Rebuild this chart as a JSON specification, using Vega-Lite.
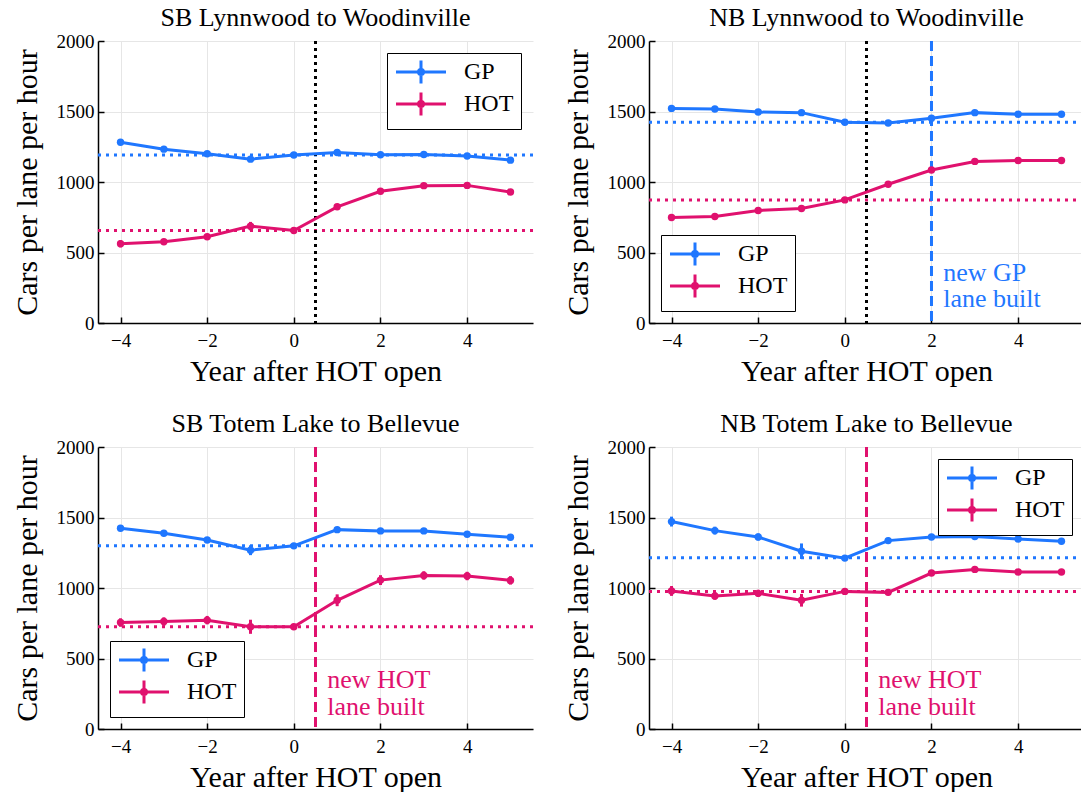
{
  "$schema": "https://vega.github.io/schema/vega-lite/v6.json",
  "padding": {"left": 11, "top": 5, "right": 0, "bottom": 0},
  "bounds": "flush",
  "columns": 2,
  "spacing": {"column": 116, "row": 124},
  "datasets": {
    "series": [
      {"panel": "SB-LW", "lane": "GP", "year": -4, "value": 1282, "lo": 1267, "hi": 1297},
      {"panel": "SB-LW", "lane": "GP", "year": -3, "value": 1233, "lo": 1218, "hi": 1248},
      {"panel": "SB-LW", "lane": "GP", "year": -2, "value": 1200, "lo": 1185, "hi": 1215},
      {"panel": "SB-LW", "lane": "GP", "year": -1, "value": 1162, "lo": 1144, "hi": 1180},
      {"panel": "SB-LW", "lane": "GP", "year": 0, "value": 1191, "lo": 1176, "hi": 1206},
      {"panel": "SB-LW", "lane": "GP", "year": 1, "value": 1209, "lo": 1194, "hi": 1224},
      {"panel": "SB-LW", "lane": "GP", "year": 2, "value": 1193, "lo": 1178, "hi": 1208},
      {"panel": "SB-LW", "lane": "GP", "year": 3, "value": 1195, "lo": 1180, "hi": 1210},
      {"panel": "SB-LW", "lane": "GP", "year": 4, "value": 1184, "lo": 1169, "hi": 1199},
      {"panel": "SB-LW", "lane": "GP", "year": 5, "value": 1155, "lo": 1140, "hi": 1170},
      {"panel": "SB-LW", "lane": "HOT", "year": -4, "value": 562, "lo": 537, "hi": 587},
      {"panel": "SB-LW", "lane": "HOT", "year": -3, "value": 576, "lo": 556, "hi": 596},
      {"panel": "SB-LW", "lane": "HOT", "year": -2, "value": 612, "lo": 592, "hi": 632},
      {"panel": "SB-LW", "lane": "HOT", "year": -1, "value": 687, "lo": 657, "hi": 717},
      {"panel": "SB-LW", "lane": "HOT", "year": 0, "value": 656, "lo": 641, "hi": 671},
      {"panel": "SB-LW", "lane": "HOT", "year": 1, "value": 824, "lo": 804, "hi": 844},
      {"panel": "SB-LW", "lane": "HOT", "year": 2, "value": 934, "lo": 919, "hi": 949},
      {"panel": "SB-LW", "lane": "HOT", "year": 3, "value": 974, "lo": 959, "hi": 989},
      {"panel": "SB-LW", "lane": "HOT", "year": 4, "value": 976, "lo": 961, "hi": 991},
      {"panel": "SB-LW", "lane": "HOT", "year": 5, "value": 929, "lo": 914, "hi": 944},
      {"panel": "NB-LW", "lane": "GP", "year": -4, "value": 1522, "lo": 1510, "hi": 1534},
      {"panel": "NB-LW", "lane": "GP", "year": -3, "value": 1518, "lo": 1506, "hi": 1530},
      {"panel": "NB-LW", "lane": "GP", "year": -2, "value": 1496, "lo": 1484, "hi": 1508},
      {"panel": "NB-LW", "lane": "GP", "year": -1, "value": 1492, "lo": 1480, "hi": 1504},
      {"panel": "NB-LW", "lane": "GP", "year": 0, "value": 1424, "lo": 1412, "hi": 1436},
      {"panel": "NB-LW", "lane": "GP", "year": 1, "value": 1419, "lo": 1407, "hi": 1431},
      {"panel": "NB-LW", "lane": "GP", "year": 2, "value": 1452, "lo": 1440, "hi": 1464},
      {"panel": "NB-LW", "lane": "GP", "year": 3, "value": 1492, "lo": 1480, "hi": 1504},
      {"panel": "NB-LW", "lane": "GP", "year": 4, "value": 1480, "lo": 1468, "hi": 1492},
      {"panel": "NB-LW", "lane": "GP", "year": 5, "value": 1480, "lo": 1468, "hi": 1492},
      {"panel": "NB-LW", "lane": "HOT", "year": -4, "value": 748, "lo": 736, "hi": 760},
      {"panel": "NB-LW", "lane": "HOT", "year": -3, "value": 755, "lo": 743, "hi": 767},
      {"panel": "NB-LW", "lane": "HOT", "year": -2, "value": 798, "lo": 786, "hi": 810},
      {"panel": "NB-LW", "lane": "HOT", "year": -1, "value": 812, "lo": 800, "hi": 824},
      {"panel": "NB-LW", "lane": "HOT", "year": 0, "value": 873, "lo": 861, "hi": 885},
      {"panel": "NB-LW", "lane": "HOT", "year": 1, "value": 984, "lo": 972, "hi": 996},
      {"panel": "NB-LW", "lane": "HOT", "year": 2, "value": 1085, "lo": 1073, "hi": 1097},
      {"panel": "NB-LW", "lane": "HOT", "year": 3, "value": 1146, "lo": 1134, "hi": 1158},
      {"panel": "NB-LW", "lane": "HOT", "year": 4, "value": 1153, "lo": 1141, "hi": 1165},
      {"panel": "NB-LW", "lane": "HOT", "year": 5, "value": 1153, "lo": 1141, "hi": 1165},
      {"panel": "SB-TB", "lane": "GP", "year": -4, "value": 1424, "lo": 1409, "hi": 1439},
      {"panel": "SB-TB", "lane": "GP", "year": -3, "value": 1388, "lo": 1373, "hi": 1403},
      {"panel": "SB-TB", "lane": "GP", "year": -2, "value": 1341, "lo": 1326, "hi": 1356},
      {"panel": "SB-TB", "lane": "GP", "year": -1, "value": 1268, "lo": 1233, "hi": 1303},
      {"panel": "SB-TB", "lane": "GP", "year": 0, "value": 1299, "lo": 1284, "hi": 1314},
      {"panel": "SB-TB", "lane": "GP", "year": 1, "value": 1414, "lo": 1399, "hi": 1429},
      {"panel": "SB-TB", "lane": "GP", "year": 2, "value": 1405, "lo": 1390, "hi": 1420},
      {"panel": "SB-TB", "lane": "GP", "year": 3, "value": 1405, "lo": 1390, "hi": 1420},
      {"panel": "SB-TB", "lane": "GP", "year": 4, "value": 1381, "lo": 1366, "hi": 1396},
      {"panel": "SB-TB", "lane": "GP", "year": 5, "value": 1360, "lo": 1340, "hi": 1380},
      {"panel": "SB-TB", "lane": "HOT", "year": -4, "value": 755, "lo": 725, "hi": 785},
      {"panel": "SB-TB", "lane": "HOT", "year": -3, "value": 762, "lo": 732, "hi": 792},
      {"panel": "SB-TB", "lane": "HOT", "year": -2, "value": 772, "lo": 742, "hi": 802},
      {"panel": "SB-TB", "lane": "HOT", "year": -1, "value": 725, "lo": 675, "hi": 775},
      {"panel": "SB-TB", "lane": "HOT", "year": 0, "value": 725, "lo": 710, "hi": 740},
      {"panel": "SB-TB", "lane": "HOT", "year": 1, "value": 913, "lo": 871, "hi": 955},
      {"panel": "SB-TB", "lane": "HOT", "year": 2, "value": 1056, "lo": 1021, "hi": 1091},
      {"panel": "SB-TB", "lane": "HOT", "year": 3, "value": 1089, "lo": 1059, "hi": 1119},
      {"panel": "SB-TB", "lane": "HOT", "year": 4, "value": 1085, "lo": 1055, "hi": 1115},
      {"panel": "SB-TB", "lane": "HOT", "year": 5, "value": 1054, "lo": 1024, "hi": 1084},
      {"panel": "NB-TB", "lane": "GP", "year": -4, "value": 1471, "lo": 1436, "hi": 1506},
      {"panel": "NB-TB", "lane": "GP", "year": -3, "value": 1407, "lo": 1379, "hi": 1435},
      {"panel": "NB-TB", "lane": "GP", "year": -2, "value": 1362, "lo": 1337, "hi": 1387},
      {"panel": "NB-TB", "lane": "GP", "year": -1, "value": 1261, "lo": 1206, "hi": 1316},
      {"panel": "NB-TB", "lane": "GP", "year": 0, "value": 1212, "lo": 1197, "hi": 1227},
      {"panel": "NB-TB", "lane": "GP", "year": 1, "value": 1336, "lo": 1316, "hi": 1356},
      {"panel": "NB-TB", "lane": "GP", "year": 2, "value": 1362, "lo": 1347, "hi": 1377},
      {"panel": "NB-TB", "lane": "GP", "year": 3, "value": 1365, "lo": 1350, "hi": 1380},
      {"panel": "NB-TB", "lane": "GP", "year": 4, "value": 1348, "lo": 1333, "hi": 1363},
      {"panel": "NB-TB", "lane": "GP", "year": 5, "value": 1332, "lo": 1312, "hi": 1352},
      {"panel": "NB-TB", "lane": "HOT", "year": -4, "value": 979, "lo": 944, "hi": 1014},
      {"panel": "NB-TB", "lane": "HOT", "year": -3, "value": 944, "lo": 916, "hi": 972},
      {"panel": "NB-TB", "lane": "HOT", "year": -2, "value": 962, "lo": 937, "hi": 987},
      {"panel": "NB-TB", "lane": "HOT", "year": -1, "value": 913, "lo": 868, "hi": 958},
      {"panel": "NB-TB", "lane": "HOT", "year": 0, "value": 976, "lo": 961, "hi": 991},
      {"panel": "NB-TB", "lane": "HOT", "year": 1, "value": 969, "lo": 949, "hi": 989},
      {"panel": "NB-TB", "lane": "HOT", "year": 2, "value": 1106, "lo": 1086, "hi": 1126},
      {"panel": "NB-TB", "lane": "HOT", "year": 3, "value": 1132, "lo": 1117, "hi": 1147},
      {"panel": "NB-TB", "lane": "HOT", "year": 4, "value": 1113, "lo": 1098, "hi": 1128},
      {"panel": "NB-TB", "lane": "HOT", "year": 5, "value": 1113, "lo": 1098, "hi": 1128}
    ],
    "refs": [
      {"panel": "SB-LW", "lane": "GP", "value": 1191},
      {"panel": "SB-LW", "lane": "HOT", "value": 656},
      {"panel": "NB-LW", "lane": "GP", "value": 1424},
      {"panel": "NB-LW", "lane": "HOT", "value": 873},
      {"panel": "SB-TB", "lane": "GP", "value": 1299},
      {"panel": "SB-TB", "lane": "HOT", "value": 725},
      {"panel": "NB-TB", "lane": "GP", "value": 1214},
      {"panel": "NB-TB", "lane": "HOT", "value": 976}
    ],
    "vlines": [
      {"panel": "SB-LW", "kind": "open", "year": 0.5},
      {"panel": "NB-LW", "kind": "open", "year": 0.5},
      {"panel": "NB-LW", "kind": "gp", "year": 2},
      {"panel": "SB-TB", "kind": "hot", "year": 0.5},
      {"panel": "NB-TB", "kind": "hot", "year": 0.5}
    ],
    "notes": [
      {"panel": "NB-LW", "lane": "GP", "year": 2.27, "value": 355, "label": "new GP"},
      {"panel": "NB-LW", "lane": "GP", "year": 2.27, "value": 168, "label": "lane built"},
      {"panel": "SB-TB", "lane": "HOT", "year": 0.77, "value": 348, "label": "new HOT"},
      {"panel": "SB-TB", "lane": "HOT", "year": 0.77, "value": 158, "label": "lane built"},
      {"panel": "NB-TB", "lane": "HOT", "year": 0.77, "value": 348, "label": "new HOT"},
      {"panel": "NB-TB", "lane": "HOT", "year": 0.77, "value": 158, "label": "lane built"}
    ]
  },
  "concat": [
    {
      "title": "SB Lynnwood to Woodinville",
      "width": 435, "height": 282,
      "layer": [
        {"data": {"name": "refs"}, "transform": [{"filter": "datum.panel == 'SB-LW'"}],
         "mark": {"type": "rule", "strokeDash": [3, 5], "strokeWidth": 3},
         "encoding": {
           "y": {"field": "value", "type": "quantitative", "scale": {"domain": [0, 2000], "nice": false}, "axis": {"values": [0, 500, 1000, 1500, 2000], "format": "d"}, "title": "Cars per lane per hour"},
           "color": {"field": "lane", "type": "nominal", "scale": {"domain": ["GP", "HOT"], "range": ["#1f77ff", "#e0116e"]}}}},
        {"data": {"name": "vlines"}, "transform": [{"filter": "datum.panel == 'SB-LW' && datum.kind == 'open'"}],
         "mark": {"type": "rule", "color": "black", "strokeDash": [3, 4], "strokeWidth": 3},
         "encoding": {
           "x": {"field": "year", "type": "quantitative", "scale": {"domain": [-4.52, 5.52], "nice": false, "zero": false}, "axis": {"values": [-4, -2, 0, 2, 4], "format": "d"}, "title": "Year after HOT open"}}},
        {"data": {"name": "series"}, "transform": [{"filter": "datum.panel == 'SB-LW'"}],
         "mark": {"type": "rule", "strokeWidth": 3},
         "encoding": {
           "x": {"field": "year", "type": "quantitative", "scale": {"domain": [-4.52, 5.52], "nice": false, "zero": false}, "title": "Year after HOT open"},
           "y": {"field": "lo", "type": "quantitative", "scale": {"domain": [0, 2000], "nice": false}, "title": "Cars per lane per hour"},
           "y2": {"field": "hi"},
           "color": {"field": "lane", "type": "nominal", "scale": {"domain": ["GP", "HOT"], "range": ["#1f77ff", "#e0116e"]}}}},
        {"data": {"name": "series"}, "transform": [{"filter": "datum.panel == 'SB-LW'"}],
         "mark": {"type": "line", "strokeWidth": 3, "point": {"filled": true, "size": 55}},
         "encoding": {
           "x": {"field": "year", "type": "quantitative", "scale": {"domain": [-4.52, 5.52], "nice": false, "zero": false}, "title": "Year after HOT open"},
           "y": {"field": "value", "type": "quantitative", "scale": {"domain": [0, 2000], "nice": false}, "title": "Cars per lane per hour"},
           "color": {"field": "lane", "type": "nominal", "scale": {"domain": ["GP", "HOT"], "range": ["#1f77ff", "#e0116e"]}, "legend": {"orient": "top-right"}}}}
      ]
    },
    {
      "title": "NB Lynnwood to Woodinville",
      "width": 435, "height": 282,
      "layer": [
        {"data": {"name": "refs"}, "transform": [{"filter": "datum.panel == 'NB-LW'"}],
         "mark": {"type": "rule", "strokeDash": [3, 5], "strokeWidth": 3},
         "encoding": {
           "y": {"field": "value", "type": "quantitative", "scale": {"domain": [0, 2000], "nice": false}, "axis": {"values": [0, 500, 1000, 1500, 2000], "format": "d"}, "title": "Cars per lane per hour"},
           "color": {"field": "lane", "type": "nominal", "scale": {"domain": ["GP", "HOT"], "range": ["#1f77ff", "#e0116e"]}}}},
        {"data": {"name": "vlines"}, "transform": [{"filter": "datum.panel == 'NB-LW' && datum.kind == 'open'"}],
         "mark": {"type": "rule", "color": "black", "strokeDash": [3, 4], "strokeWidth": 3},
         "encoding": {
           "x": {"field": "year", "type": "quantitative", "scale": {"domain": [-4.52, 5.52], "nice": false, "zero": false}, "axis": {"values": [-4, -2, 0, 2, 4], "format": "d"}, "title": "Year after HOT open"}}},
        {"data": {"name": "vlines"}, "transform": [{"filter": "datum.panel == 'NB-LW' && datum.kind == 'gp'"}],
         "mark": {"type": "rule", "color": "#1f77ff", "strokeDash": [10, 5], "strokeWidth": 3},
         "encoding": {
           "x": {"field": "year", "type": "quantitative", "scale": {"domain": [-4.52, 5.52], "nice": false, "zero": false}, "title": "Year after HOT open"}}},
        {"data": {"name": "series"}, "transform": [{"filter": "datum.panel == 'NB-LW'"}],
         "mark": {"type": "rule", "strokeWidth": 3},
         "encoding": {
           "x": {"field": "year", "type": "quantitative", "scale": {"domain": [-4.52, 5.52], "nice": false, "zero": false}, "title": "Year after HOT open"},
           "y": {"field": "lo", "type": "quantitative", "scale": {"domain": [0, 2000], "nice": false}, "title": "Cars per lane per hour"},
           "y2": {"field": "hi"},
           "color": {"field": "lane", "type": "nominal", "scale": {"domain": ["GP", "HOT"], "range": ["#1f77ff", "#e0116e"]}}}},
        {"data": {"name": "series"}, "transform": [{"filter": "datum.panel == 'NB-LW'"}],
         "mark": {"type": "line", "strokeWidth": 3, "point": {"filled": true, "size": 55}},
         "encoding": {
           "x": {"field": "year", "type": "quantitative", "scale": {"domain": [-4.52, 5.52], "nice": false, "zero": false}, "title": "Year after HOT open"},
           "y": {"field": "value", "type": "quantitative", "scale": {"domain": [0, 2000], "nice": false}, "title": "Cars per lane per hour"},
           "color": {"field": "lane", "type": "nominal", "scale": {"domain": ["GP", "HOT"], "range": ["#1f77ff", "#e0116e"]}, "legend": {"orient": "bottom-left"}}}},
        {"data": {"name": "notes"}, "transform": [{"filter": "datum.panel == 'NB-LW'"}],
         "mark": {"type": "text", "align": "left", "baseline": "middle", "font": "Liberation Serif", "fontSize": 26},
         "encoding": {
           "x": {"field": "year", "type": "quantitative", "scale": {"domain": [-4.52, 5.52], "nice": false, "zero": false}, "title": "Year after HOT open"},
           "y": {"field": "value", "type": "quantitative", "scale": {"domain": [0, 2000], "nice": false}, "title": "Cars per lane per hour"},
           "text": {"field": "label"},
           "color": {"field": "lane", "type": "nominal", "scale": {"domain": ["GP", "HOT"], "range": ["#1f77ff", "#e0116e"]}}}}
      ]
    },
    {
      "title": "SB Totem Lake to Bellevue",
      "width": 435, "height": 282,
      "layer": [
        {"data": {"name": "refs"}, "transform": [{"filter": "datum.panel == 'SB-TB'"}],
         "mark": {"type": "rule", "strokeDash": [3, 5], "strokeWidth": 3},
         "encoding": {
           "y": {"field": "value", "type": "quantitative", "scale": {"domain": [0, 2000], "nice": false}, "axis": {"values": [0, 500, 1000, 1500, 2000], "format": "d"}, "title": "Cars per lane per hour"},
           "color": {"field": "lane", "type": "nominal", "scale": {"domain": ["GP", "HOT"], "range": ["#1f77ff", "#e0116e"]}}}},
        {"data": {"name": "vlines"}, "transform": [{"filter": "datum.panel == 'SB-TB' && datum.kind == 'hot'"}],
         "mark": {"type": "rule", "color": "#e0116e", "strokeDash": [10, 5], "strokeWidth": 3},
         "encoding": {
           "x": {"field": "year", "type": "quantitative", "scale": {"domain": [-4.52, 5.52], "nice": false, "zero": false}, "axis": {"values": [-4, -2, 0, 2, 4], "format": "d"}, "title": "Year after HOT open"}}},
        {"data": {"name": "series"}, "transform": [{"filter": "datum.panel == 'SB-TB'"}],
         "mark": {"type": "rule", "strokeWidth": 3},
         "encoding": {
           "x": {"field": "year", "type": "quantitative", "scale": {"domain": [-4.52, 5.52], "nice": false, "zero": false}, "title": "Year after HOT open"},
           "y": {"field": "lo", "type": "quantitative", "scale": {"domain": [0, 2000], "nice": false}, "title": "Cars per lane per hour"},
           "y2": {"field": "hi"},
           "color": {"field": "lane", "type": "nominal", "scale": {"domain": ["GP", "HOT"], "range": ["#1f77ff", "#e0116e"]}}}},
        {"data": {"name": "series"}, "transform": [{"filter": "datum.panel == 'SB-TB'"}],
         "mark": {"type": "line", "strokeWidth": 3, "point": {"filled": true, "size": 55}},
         "encoding": {
           "x": {"field": "year", "type": "quantitative", "scale": {"domain": [-4.52, 5.52], "nice": false, "zero": false}, "title": "Year after HOT open"},
           "y": {"field": "value", "type": "quantitative", "scale": {"domain": [0, 2000], "nice": false}, "title": "Cars per lane per hour"},
           "color": {"field": "lane", "type": "nominal", "scale": {"domain": ["GP", "HOT"], "range": ["#1f77ff", "#e0116e"]}, "legend": {"orient": "bottom-left"}}}},
        {"data": {"name": "notes"}, "transform": [{"filter": "datum.panel == 'SB-TB'"}],
         "mark": {"type": "text", "align": "left", "baseline": "middle", "font": "Liberation Serif", "fontSize": 26},
         "encoding": {
           "x": {"field": "year", "type": "quantitative", "scale": {"domain": [-4.52, 5.52], "nice": false, "zero": false}, "title": "Year after HOT open"},
           "y": {"field": "value", "type": "quantitative", "scale": {"domain": [0, 2000], "nice": false}, "title": "Cars per lane per hour"},
           "text": {"field": "label"},
           "color": {"field": "lane", "type": "nominal", "scale": {"domain": ["GP", "HOT"], "range": ["#1f77ff", "#e0116e"]}}}}
      ]
    },
    {
      "title": "NB Totem Lake to Bellevue",
      "width": 435, "height": 282,
      "layer": [
        {"data": {"name": "refs"}, "transform": [{"filter": "datum.panel == 'NB-TB'"}],
         "mark": {"type": "rule", "strokeDash": [3, 5], "strokeWidth": 3},
         "encoding": {
           "y": {"field": "value", "type": "quantitative", "scale": {"domain": [0, 2000], "nice": false}, "axis": {"values": [0, 500, 1000, 1500, 2000], "format": "d"}, "title": "Cars per lane per hour"},
           "color": {"field": "lane", "type": "nominal", "scale": {"domain": ["GP", "HOT"], "range": ["#1f77ff", "#e0116e"]}}}},
        {"data": {"name": "vlines"}, "transform": [{"filter": "datum.panel == 'NB-TB' && datum.kind == 'hot'"}],
         "mark": {"type": "rule", "color": "#e0116e", "strokeDash": [10, 5], "strokeWidth": 3},
         "encoding": {
           "x": {"field": "year", "type": "quantitative", "scale": {"domain": [-4.52, 5.52], "nice": false, "zero": false}, "axis": {"values": [-4, -2, 0, 2, 4], "format": "d"}, "title": "Year after HOT open"}}},
        {"data": {"name": "series"}, "transform": [{"filter": "datum.panel == 'NB-TB'"}],
         "mark": {"type": "rule", "strokeWidth": 3},
         "encoding": {
           "x": {"field": "year", "type": "quantitative", "scale": {"domain": [-4.52, 5.52], "nice": false, "zero": false}, "title": "Year after HOT open"},
           "y": {"field": "lo", "type": "quantitative", "scale": {"domain": [0, 2000], "nice": false}, "title": "Cars per lane per hour"},
           "y2": {"field": "hi"},
           "color": {"field": "lane", "type": "nominal", "scale": {"domain": ["GP", "HOT"], "range": ["#1f77ff", "#e0116e"]}}}},
        {"data": {"name": "series"}, "transform": [{"filter": "datum.panel == 'NB-TB'"}],
         "mark": {"type": "line", "strokeWidth": 3, "point": {"filled": true, "size": 55}},
         "encoding": {
           "x": {"field": "year", "type": "quantitative", "scale": {"domain": [-4.52, 5.52], "nice": false, "zero": false}, "title": "Year after HOT open"},
           "y": {"field": "value", "type": "quantitative", "scale": {"domain": [0, 2000], "nice": false}, "title": "Cars per lane per hour"},
           "color": {"field": "lane", "type": "nominal", "scale": {"domain": ["GP", "HOT"], "range": ["#1f77ff", "#e0116e"]}, "legend": {"orient": "top-right"}}}},
        {"data": {"name": "notes"}, "transform": [{"filter": "datum.panel == 'NB-TB'"}],
         "mark": {"type": "text", "align": "left", "baseline": "middle", "font": "Liberation Serif", "fontSize": 26},
         "encoding": {
           "x": {"field": "year", "type": "quantitative", "scale": {"domain": [-4.52, 5.52], "nice": false, "zero": false}, "title": "Year after HOT open"},
           "y": {"field": "value", "type": "quantitative", "scale": {"domain": [0, 2000], "nice": false}, "title": "Cars per lane per hour"},
           "text": {"field": "label"},
           "color": {"field": "lane", "type": "nominal", "scale": {"domain": ["GP", "HOT"], "range": ["#1f77ff", "#e0116e"]}}}}
      ]
    }
  ],
  "resolve": {"scale": {"color": "independent"}, "legend": {"color": "independent"}},
  "config": {
    "view": {"stroke": null},
    "title": {"font": "Liberation Serif", "fontSize": 26, "fontWeight": "normal", "color": "black", "offset": 1},
    "axis": {
      "labelFont": "Liberation Serif", "labelFontSize": 19, "labelColor": "black",
      "titleFont": "Liberation Serif", "titleFontSize": 30, "titleFontWeight": "normal", "titleColor": "black",
      "grid": true, "gridColor": "#e6e6e6", "gridWidth": 1,
      "domainColor": "black", "domainWidth": 1.5,
      "tickColor": "black", "tickWidth": 1.5, "tickSize": -6, "labelPadding": 10
    },
    "axisY": {"titlePadding": 14},
    "axisX": {"titlePadding": 6, "labelPadding": 14},
    "legend": {
      "title": null, "strokeColor": "black", "fillColor": "white", "padding": 7, "offset": 12,
      "labelFont": "Liberation Serif", "labelFontSize": 24, "labelColor": "black",
      "symbolType": "M-1,0H4M1.5,-1.15V1.15M1.25,0A0.25,0.25 0 1,1 1.75,0A0.25,0.25 0 1,1 1.25,0Z",
      "symbolSize": 400, "symbolStrokeWidth": 3, "labelOffset": 46, "rowPadding": -4
    }
  }
}
